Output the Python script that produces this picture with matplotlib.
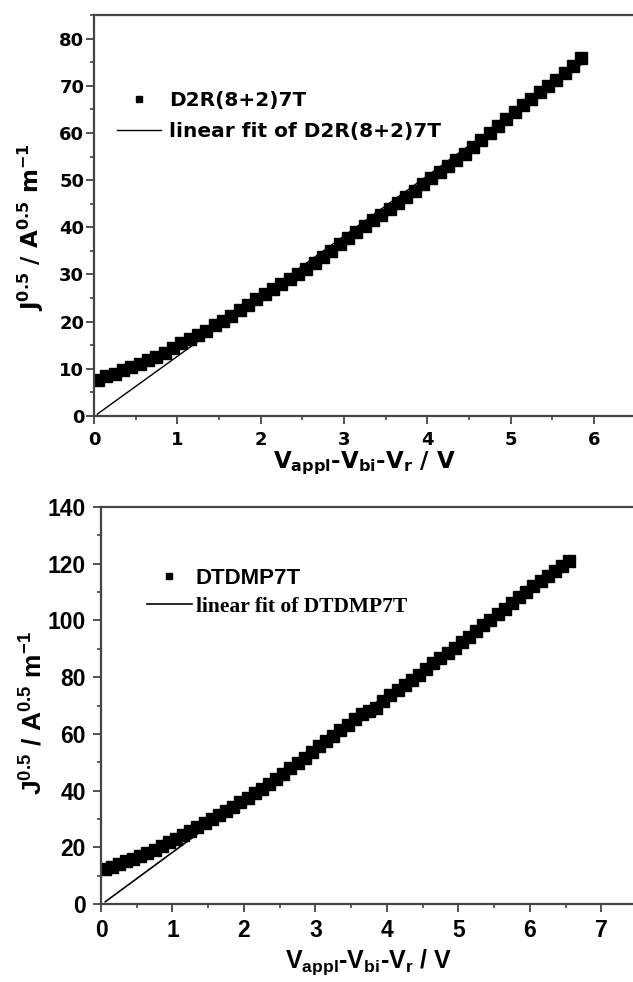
import numpy as np
import matplotlib
matplotlib.use("Agg")
import matplotlib.pyplot as plt
from matplotlib.ticker import MultipleLocator

plt.rcParams['font.family'] = ['Liberation Sans', 'DejaVu Sans']
plt.rcParams['font.weight'] = 'bold'
plt.rcParams['mathtext.fontset'] = 'custom'
plt.rcParams['mathtext.rm'] = 'Liberation Sans:bold'
plt.rcParams['mathtext.it'] = 'Liberation Sans:bold'
plt.rcParams['mathtext.bf'] = 'Liberation Sans:bold'
plt.rcParams['mathtext.default'] = 'rm'

# ---------------- data ----------------
top_x = [0.05, 0.15, 0.25, 0.35, 0.45, 0.55, 0.65, 0.75, 0.85, 0.95,
         1.05, 1.15, 1.25, 1.35, 1.45, 1.55, 1.65, 1.75, 1.85, 1.95,
         2.05, 2.15, 2.25, 2.35, 2.45, 2.55, 2.65, 2.75, 2.85, 2.95,
         3.05, 3.15, 3.25, 3.35, 3.45, 3.55, 3.65, 3.75, 3.85, 3.95,
         4.05, 4.15, 4.25, 4.35, 4.45, 4.55, 4.65, 4.75, 4.85, 4.95,
         5.05, 5.15, 5.25, 5.35, 5.45, 5.55, 5.65, 5.75, 5.85]
top_y = [7.7, 8.4, 9.0, 9.7, 10.4, 11.0, 11.8, 12.6, 13.4, 14.5,
         15.5, 16.3, 17.2, 18.1, 19.2, 20.2, 21.3, 22.4, 23.6, 24.8,
         25.8, 26.9, 28.0, 29.1, 30.1, 31.2, 32.5, 33.8, 35.0, 36.4,
         37.8, 39.1, 40.3, 41.5, 42.6, 43.8, 45.1, 46.4, 47.7, 49.2,
         50.5, 51.8, 53.0, 54.3, 55.6, 57.0, 58.5, 60.0, 61.5, 63.0,
         64.5, 65.9, 67.3, 68.6, 69.9, 71.2, 72.6, 74.2, 75.8]
top_fit_x = [0.04, 5.85]
top_fit_y = [0.4, 74.5]

bot_x = [0.05, 0.15, 0.25, 0.35, 0.45, 0.55, 0.65, 0.75, 0.85, 0.95,
         1.05, 1.15, 1.25, 1.35, 1.45, 1.55, 1.65, 1.75, 1.85, 1.95,
         2.05, 2.15, 2.25, 2.35, 2.45, 2.55, 2.65, 2.75, 2.85, 2.95,
         3.05, 3.15, 3.25, 3.35, 3.45, 3.55, 3.65, 3.75, 3.85, 3.95,
         4.05, 4.15, 4.25, 4.35, 4.45, 4.55, 4.65, 4.75, 4.85, 4.95,
         5.05, 5.15, 5.25, 5.35, 5.45, 5.55, 5.65, 5.75, 5.85, 5.95,
         6.05, 6.15, 6.25, 6.35, 6.45, 6.55]
bot_y = [12.3, 13.2, 14.1, 15.0, 15.9, 16.9, 18.0, 19.2, 20.4, 21.7,
         23.0, 24.3, 25.6, 27.0, 28.5, 30.0, 31.4, 32.8, 34.3, 35.8,
         37.4, 39.0, 40.7, 42.4, 44.2, 46.0, 47.8, 49.6, 51.5, 53.5,
         55.6, 57.5, 59.4, 61.3, 63.2, 65.1, 67.0, 68.0, 69.2, 71.5,
         73.6, 75.5, 77.3, 79.0, 80.9, 82.9, 84.9, 86.8, 88.6, 90.4,
         92.3, 94.3, 96.3, 98.3, 100.3, 102.2, 104.1, 106.0, 108.1, 110.1,
         112.0, 113.9, 115.7, 117.5, 119.3, 121.0]
bot_fit_x = [0.06, 6.6]
bot_fit_y = [0.8, 122.0]

top_label = "D2R(8+2)7T"
top_fit_label = "linear fit of D2R(8+2)7T"
bot_label = "DTDMP7T"
bot_fit_label = "linear fit of DTDMP7T"

W, H = 633, 982
fig = plt.figure(figsize=(W / 100, H / 100), dpi=100)

ax1 = fig.add_axes([94 / W, (H - 416) / H, 541.5 / W, 401 / H])
ax2 = fig.add_axes([101 / W, (H - 904) / H, 536 / W, 397 / H])

ylabel_dv = r'$\mathbf{J^{0.5}\ /\ A^{0.5}\ m^{-1}}$'
xlabel_dv = r'$\mathbf{V_{appl}}$-$\mathbf{V_{bi}}$-$\mathbf{V_{r}}$ / V'
ylabel_ls = r'$J^{0.5}\ /\ A^{0.5}\ m^{-1}$'
xlabel_ls = r'$V_{appl}$-$V_{bi}$-$V_{r}$ / V'

SPINE = '#444444'


def style(ax, tick_fs, pad_y, pad_x, family):
    for s in ax.spines.values():
        s.set_color(SPINE)
        s.set_linewidth(1.6)
    ax.tick_params(which='major', direction='out', length=6, width=1.3,
                   color=SPINE, labelsize=tick_fs)
    ax.tick_params(which='minor', direction='out', length=3, width=1.2,
                   color=SPINE)
    ax.tick_params(axis='y', which='major', pad=pad_y)
    ax.tick_params(axis='x', which='major', pad=pad_x)
    for lab in ax.get_xticklabels() + ax.get_yticklabels():
        lab.set_fontweight('bold')
        lab.set_fontfamily(family)


# ---- top panel ----
ax1.plot(top_x, top_y, linestyle='none', marker='s', markersize=8.5,
         color='black', label=top_label)
ax1.plot(top_fit_x, top_fit_y, color='black', linewidth=1.0,
         label=top_fit_label)
ax1.set_xlim(0, 6.5)
ax1.set_ylim(0, 85)
ax1.xaxis.set_major_locator(MultipleLocator(1))
ax1.xaxis.set_minor_locator(MultipleLocator(0.5))
ax1.yaxis.set_major_locator(MultipleLocator(10))
ax1.yaxis.set_minor_locator(MultipleLocator(5))
style(ax1, 13, 1.0, 5, ['DejaVu Sans'])
ax1.set_ylabel(ylabel_dv, fontsize=16.5, family='DejaVu Sans',
               fontweight='bold', math_fontfamily='dejavusans')
ax1.set_xlabel(xlabel_dv, fontsize=16.5, family='DejaVu Sans',
               fontweight='bold', math_fontfamily='dejavusans')
ax1.yaxis.set_label_coords(-0.088, 0.47)
ax1.xaxis.set_label_coords(0.5, -0.085)
leg1 = ax1.legend(loc='upper left', bbox_to_anchor=(0.042, 0.81),
                  frameon=False, numpoints=1, markerscale=0.55,
                  prop={'family': 'DejaVu Sans', 'weight': 'bold',
                        'size': 14.5},
                  handlelength=2.2, handletextpad=0.4, labelspacing=0.6,
                  borderpad=0, borderaxespad=0)

# ---- bottom panel ----
ax2.plot(bot_x, bot_y, linestyle='none', marker='s', markersize=8.5,
         color='black', label=bot_label)
ax2.plot(bot_fit_x, bot_fit_y, color='black', linewidth=1.2,
         label=bot_fit_label)
ax2.set_xlim(0, 7.5)
ax2.set_ylim(0, 140)
ax2.xaxis.set_major_locator(MultipleLocator(1))
ax2.xaxis.set_minor_locator(MultipleLocator(0.5))
ax2.yaxis.set_major_locator(MultipleLocator(20))
ax2.yaxis.set_minor_locator(MultipleLocator(10))
style(ax2, 16.5, 5, 5, ['Liberation Sans'])
ax2.set_ylabel(ylabel_ls, fontsize=19, fontweight='bold')
ax2.set_xlabel(xlabel_ls, fontsize=18, fontweight='bold')
ax2.yaxis.set_label_coords(-0.100, 0.48)
ax2.xaxis.set_label_coords(0.5, -0.11)
leg2 = ax2.legend(loc='upper left', bbox_to_anchor=(0.086, 0.847),
                  frameon=False, numpoints=1, markerscale=0.55,
                  prop={'family': 'Liberation Sans', 'weight': 'bold',
                        'size': 16},
                  handlelength=2.0, handletextpad=0.2, labelspacing=0.35,
                  borderpad=0, borderaxespad=0)
texts = leg2.get_texts()
texts[1].set_fontfamily(['Liberation Serif', 'DejaVu Serif'])
texts[1].set_fontweight('bold')
texts[1].set_fontsize(15.5)

fig.savefig('out.png', dpi=100)
